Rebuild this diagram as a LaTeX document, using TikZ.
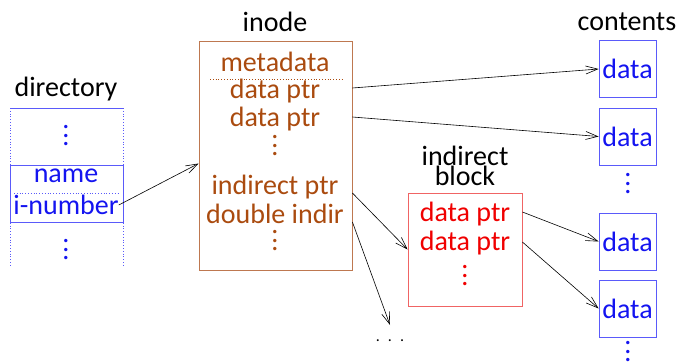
\documentclass[tikz,border=0pt]{standalone}
\usepackage{fontspec}
\setmainfont{Carlito}
\usetikzlibrary{arrows.meta,positioning}

\definecolor{inodetext}{RGB}{170,75,15}
\definecolor{inodeline}{RGB}{190,120,80}
\definecolor{dirblue}{RGB}{20,20,240}
\definecolor{dirline}{RGB}{90,90,250}
\definecolor{indtext}{RGB}{240,0,0}
\definecolor{indline}{RGB}{240,100,100}

% tall vertical dots
\newcommand{\vdotsbig}{\vbox{\baselineskip=8.5pt\lineskiplimit=-10pt\hbox{.}\hbox{.}\hbox{.}}}

\tikzset{
  lbl/.style={inner sep=0pt, text=black},
  itext/.style={inner sep=0pt, text=inodetext},
  dtext/.style={inner sep=0pt, text=dirblue},
  rtext/.style={inner sep=0pt, text=indtext},
  datablock/.style={draw=dirline, line width=0.8pt, minimum width=57pt,
    minimum height=57pt, inner sep=0pt, text=dirblue},
  ptr/.style={->, line width=0.6pt}
}

\begin{document}
\begin{tikzpicture}[x=1pt, y=-1pt, font=\fontsize{28}{30}\selectfont,
  >={Straight Barb[length=12pt,width=8pt]}]
  \useasboundingbox (0,0) rectangle (680,364);

  % directory
  \node[lbl] (dirlbl) at (66,89) {directory};
  \draw[dirline, line width=0.8pt] (10,108) -- (123,108);
  \draw[dirline, dotted, line width=0.8pt] (10,108) -- (10,266);
  \draw[dirline, dotted, line width=0.8pt] (123,108) -- (123,266);
  \node[draw=dirline, line width=0.8pt, minimum width=113pt, minimum height=57pt]
    (entry) at (66.5,193.5) {};
  \draw[dirline, dotted, line width=0.8pt] (14,193) -- (119,193);
  \node[dtext] (name) at (66,176) {name};
  \node[dtext] (inum) at (66,205) {i-number};
  \node[dtext] (dirdots1) at (66,136) {\vdotsbig};
  \node[dtext] (dirdots2) at (66,250) {\vdotsbig};

  % inode
  \node[lbl] (inodelbl) at (275,22) {inode};
  \node[draw=inodeline, line width=0.8pt, minimum width=153pt, minimum height=229pt]
    (inode) at (275.5,155.5) {};
  \draw[inodetext, dotted, line width=0.8pt] (210,79) -- (343,79);
  \node[itext] (meta) at (275,62) {metadata};
  \node[itext] (dptr1) at (275,91) {data ptr};
  \node[itext] (dptr2) at (275,119) {data ptr};
  \node[itext] (idots1) at (275,146) {\vdotsbig};
  \node[itext] (indptr) at (275,187) {indirect ptr};
  \node[itext] (dblind) at (275,214) {double indir};
  \node[itext] (idots2) at (275,241) {\vdotsbig};

  % indirect block
  \node[lbl, align=center, font=\fontsize{28}{18}\selectfont] (indlbl) at (465,166) {indirect\\block};
  \node[draw=indline, line width=0.8pt, minimum width=114pt, minimum height=113pt]
    (indir) at (465,249.5) {};
  \node[rtext] (iptr1) at (465,214) {data ptr};
  \node[rtext] (iptr2) at (465,243) {data ptr};
  \node[rtext] (rdots) at (465,276) {\vdotsbig};

  % contents
  \node[lbl] (contlbl) at (627,22) {contents};
  \node[datablock] (data1) at (627.5,69) {data};
  \node[datablock] (data2) at (627.5,136.5) {data};
  \node[dtext] (cdots1) at (628,184) {\vdotsbig};
  \node[datablock] (data3) at (627.5,241.5) {data};
  \node[datablock] (data4) at (627.5,308.5) {data};
  \node[dtext] (cdots2) at (628,352) {\vdotsbig};

  \node[lbl, font=\fontsize{16}{18}\selectfont] (more) at (390,341) {.\hspace{8pt}.\hspace{8pt}.};
  \coordinate (moretip) at (390,325);

  % pointers
  \draw[ptr] (inum.east) -- ([yshift=-8pt]inode.west);
  \draw[ptr] (inode.east |- dptr1) ++(0,-3) -- (data1.west);
  \draw[ptr] (inode.east |- dptr2) ++(0,-2) -- (data2.west);
  \draw[ptr] (inode.east |- indptr) ++(0,6) -- (indir.west);
  \draw[ptr] (inode.east |- dblind) ++(0,8) -- (moretip);
  \draw[ptr] (indir.east |- iptr1) ++(0,-2) -- (data3.west);
  \draw[ptr] (indir.east |- iptr2) ++(0,-1) -- (data4.west);
\end{tikzpicture}
\end{document}
